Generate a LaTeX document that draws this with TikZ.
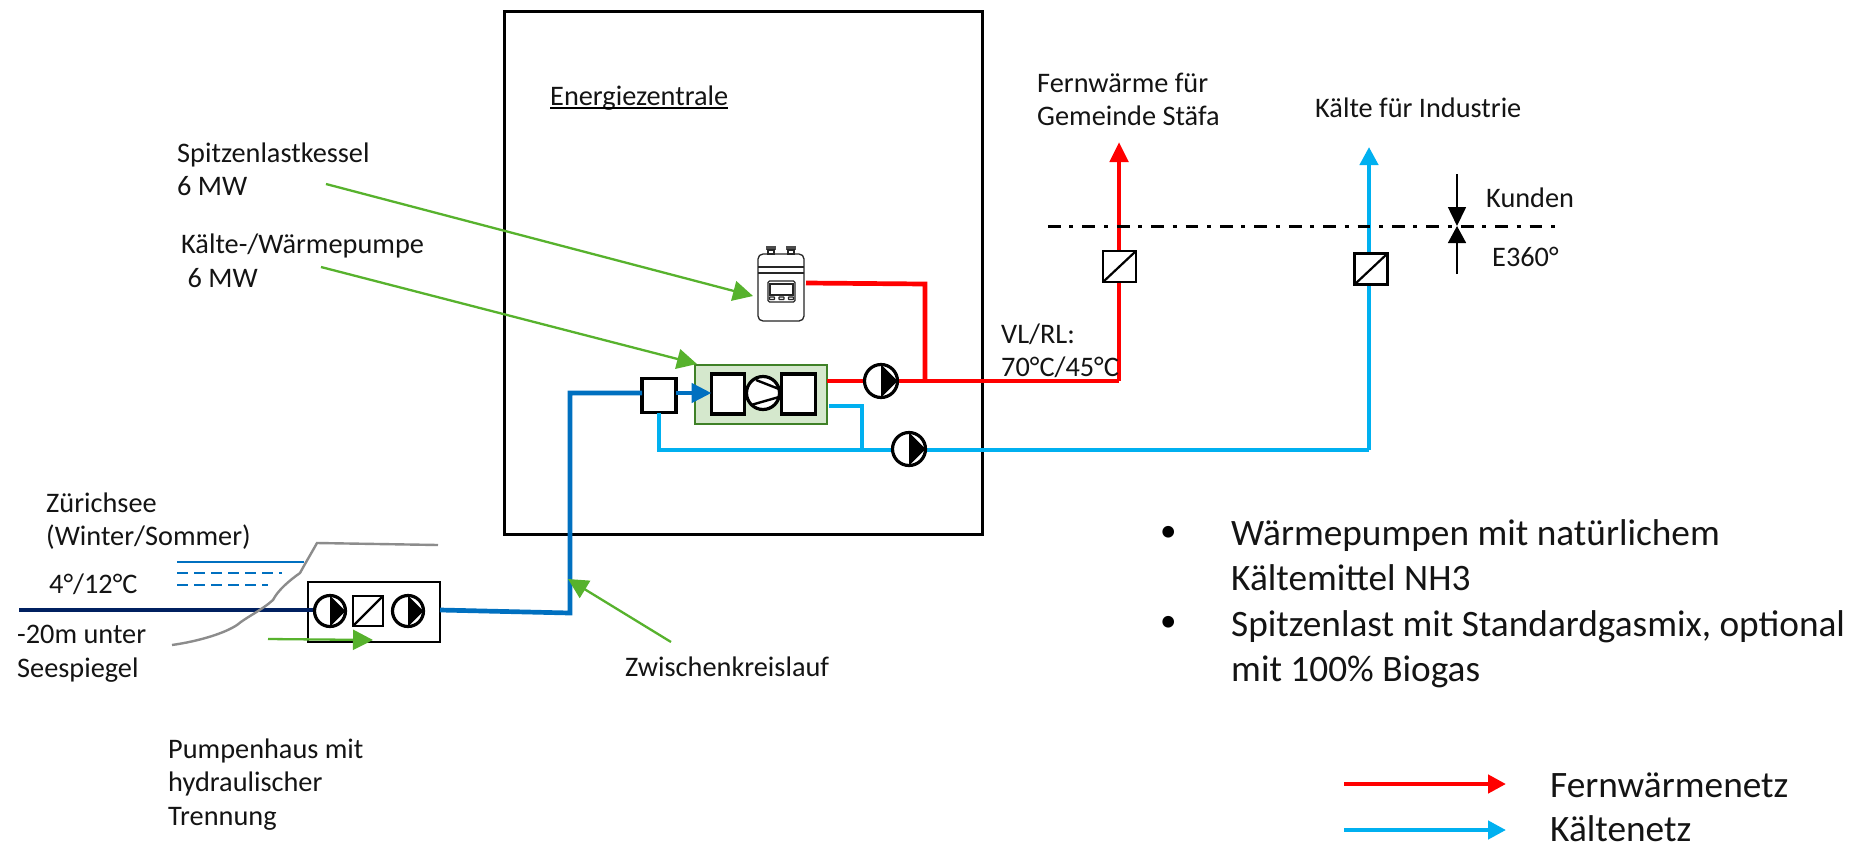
\documentclass[tikz,border=0pt]{standalone}
\usepackage{fontspec}
\setmainfont{Carlito}
\usetikzlibrary{arrows.meta,calc}
\definecolor{redline}{HTML}{FF0000}
\definecolor{cyanline}{HTML}{00B0F0}
\definecolor{blueline}{HTML}{0070C0}
\definecolor{navyline}{HTML}{002060}
\definecolor{greenarr}{HTML}{57B22D}
\definecolor{hpfill}{HTML}{D5E8CD}
\definecolor{hpedge}{HTML}{3F8127}
\definecolor{greyline}{HTML}{8C8C8C}
\tikzset{
  lbl/.style={anchor=base west,inner sep=0pt,align=left,text=black!92,font=\fontsize{28.3}{33.5}\selectfont},
  biglbl/.style={anchor=base west,inner sep=0pt,align=left,text=black!92,font=\fontsize{37.3}{45}\selectfont},
  bulletlbl/.style={anchor=base west,inner sep=0pt,text=black,font=\fontsize{33}{40}\selectfont},
  note/.style={draw=greenarr,line width=2.3pt,-{Triangle[length=20pt,width=20pt]}},
  redpipe/.style={draw=redline,line width=4.7pt},
  cyanpipe/.style={draw=cyanline,line width=4.3pt},
  bluepipe/.style={draw=blueline,line width=4.7pt},
  sym/.style={draw=black,line width=3.2pt,fill=white,inner sep=0pt,outer sep=0pt},
  boxn/.style={sym,rectangle,minimum width=#1,minimum height=#1},
  hx/.style={sym,line width=2.6pt,rectangle,minimum width=33pt,minimum height=31pt,
    path picture={\draw[black,line width=2.2pt] (path picture bounding box.south west) -- (path picture bounding box.north east);}},
  pumpn/.style={sym,circle,minimum size=#1,
    path picture={\fill[black] (path picture bounding box.north) -- (path picture bounding box.east) -- (path picture bounding box.south) -- cycle;}},
}
\begin{document}
\begin{tikzpicture}[x=1pt,y=-1pt]
\useasboundingbox[fill=white] (0,0) rectangle (1867,846);

% building
\node[draw=black,line width=3pt,outer sep=0pt,minimum width=478pt,minimum height=523.5pt,inner sep=0pt,anchor=north west] (zentrale) at (504,11) {};
\node[lbl] (tz) at (550,105) {Energiezentrale};
\draw[black,line width=1.9pt] ($(tz.base west)+(0,3)$) -- ($(tz.base east)+(0,3)$);

% coordinates of bends
\coordinate (rb1) at (806,283);
\coordinate (rb2) at (925,284);
\coordinate (rj) at (925,381);
\coordinate (rc) at (1119,381);
\coordinate (rtop) at (1119,142);
\coordinate (cb1) at (829,406);
\coordinate (cb2) at (862,406);
\coordinate (cj) at (862,450);
\coordinate (cc) at (1369,450);
\coordinate (ctop) at (1369,147);
\coordinate (cs) at (659,450);
\coordinate (bj) at (570,613);
\coordinate (bt) at (570,393);
\coordinate (nav) at (19,610);

% heat pump group
\node[draw=hpedge,fill=hpfill,line width=2.4pt,outer sep=0pt,minimum width=132pt,minimum height=59pt,inner sep=0pt,anchor=north west] (hp) at (695,365) {};
\node[sym,minimum width=33pt,minimum height=40pt] (hpl) at (728,394) {};
\node[sym,minimum width=34pt,minimum height=40pt] (hpr) at (798.5,394) {};
\node[sym,circle,minimum size=33pt] (comp) at (763,393) {};
\draw[black,line width=2.4pt] ($(comp)+(-7,-13)$) -- ($(comp)+(16,-4)$);
\draw[black,line width=2.4pt] ($(comp)+(-12,12)$) -- ($(comp)+(16,4)$);

% pump-house + square before HP
\node[boxn=34pt] (sq) at (659,395.5) {};
\node[draw=black,line width=2.8pt,outer sep=0pt,fill=white,minimum width=132pt,minimum height=60pt,inner sep=0pt,anchor=north west] (ph) at (308,582) {};

% pipes
\draw[redpipe] (rb1) -- (rb2) -- (rj);
\draw[redpipe] (hp.east |- rj) -- (rc);
\draw[redpipe,-{Triangle[length=20pt,width=18pt]}] (rc) -- (rtop);
\draw[cyanpipe] (cb1) -- (cb2) -- (cj);
\draw[cyanpipe] (sq.south) -- (cs) -- (cc);
\draw[cyanpipe,-{Triangle[length=18pt,width=18pt]}] (cc) -- (ctop);
\draw[navyline,line width=4.3pt] (nav) -- (ph.west |- nav) -- ++(12,0);
\draw[bluepipe] (ph.east |- nav) -- (bj) -- (bt) -- (sq.west |- bt);
\draw[bluepipe,-{Triangle[length=20pt,width=19pt]}] (sq.east |- bt) -- (hpl.west |- bt);

% heat exchangers and pumps on the pipes
\node[hx] (hxr) at (1119.5,266.5) {};
\node[hx] (hxc) at (1371,269) {};
\node[pumpn=33pt] (p1) at (881,381) {};
\node[pumpn=33pt] (p2) at (909,449) {};
\node[pumpn=31pt] (p3) at (330,611) {};
\node[hx,minimum width=30pt,minimum height=30pt] (hxp) at (368,611) {};
\node[pumpn=31pt] (p4) at (408,611) {};

% boiler
\node[draw=black!85,line width=1.3pt,fill=white,rounded corners=5pt,outer sep=0pt,minimum width=46pt,minimum height=67pt,inner sep=0pt,anchor=north west] (boiler) at (758,254) {};
\draw[black!85,line width=1.1pt] (boiler.west |- 0,267) -- (boiler.east |- 0,267);
\draw[black!85,line width=1.1pt] (boiler.west |- 0,273) -- (boiler.east |- 0,273);
\draw[black!85,line width=1.3pt,rounded corners=1.5pt] (768,281) rectangle (795,302);
\draw[black!85,line width=1.1pt] (770,284) rectangle (793,295);
\foreach \bx in {772,781.5,791}{\draw[black!85,line width=1.1pt,rounded corners=.5pt] (\bx-2.5,297) rectangle (\bx+2.5,299.5);}
\foreach \cx in {771,791}{
  \fill[black!70] (\cx-5,246) rectangle (\cx+5,250);
  \draw[black!85,line width=1.2pt] (\cx-3,250) rectangle (\cx+3,254);
}

% lake
\draw[greyline,line width=2.4pt] (172,645) .. controls (200,641) and (225,633) .. (237,625)
  .. controls (245,618) and (262,610) .. (273,600)
  .. controls (278,590) and (290,580) .. (300,573)
  .. controls (306,562) and (312,552) .. (317,543) -- (438,545);
\coordinate (w1a) at (177,562); \coordinate (w1b) at (304,562);
\coordinate (w2a) at (177,573); \coordinate (w2b) at (282,573);
\coordinate (w3a) at (177,585); \coordinate (w3b) at (268,585);
\draw[blueline,line width=1.5pt] (w1a) -- (w1b);
\draw[blueline,line width=1.5pt,dash pattern=on 11pt off 6pt] (w2a) -- (w2b);
\draw[blueline,line width=1.5pt,dash pattern=on 11pt off 6pt] (w3a) -- (w3b);

% customer boundary
\coordinate (d1) at (1048,226); \coordinate (d2) at (1555,226);
\coordinate (k1) at (1457,174); \coordinate (k2) at (1457,274); \coordinate (km) at (1457,226);
\draw[black,line width=3pt,dash pattern=on 12.7pt off 8.7pt on 4pt off 9pt] (d1) -- (d2);
\draw[black,line width=1.6pt,-{Triangle[length=19pt,width=18pt]}] (k1) -- (km);
\draw[black,line width=1.6pt,-{Triangle[length=17pt,width=18pt]}] (k2) -- (km);

% green notes
\coordinate (n1a) at (326,184); \coordinate (n1b) at (753,296);
\coordinate (n2a) at (321,267); \coordinate (n2b) at (697,364);
\coordinate (n3a) at (671,642); \coordinate (n3b) at (568,579);
\coordinate (n4a) at (268,639); \coordinate (n4b) at (373,640);
\draw[note] (n1a) -- (n1b);
\draw[note] (n2a) -- (n2b);
\draw[note] (n3a) -- (n3b);
\draw[note] (n4a) -- (n4b);

% labels
\node[lbl] (t1) at (1037,125.5) {Fernwärme für\\Gemeinde Stäfa};
\node[lbl] (t2) at (1315,117) {Kälte für Industrie};
\node[lbl] (t3) at (177,195.5) {Spitzenlastkessel\\6 MW};
\node[lbl] (t4) at (181,287) {Kälte-/Wärmepumpe\\\ 6 MW};
\node[lbl] (t5) at (1001,376.5) {VL/RL:\\70°C/45°C};
\node[lbl] (t6) at (46,545.5) {Zürichsee\\(Winter/Sommer)};
\node[lbl] (t7) at (49,593) {4°/12°C};
\node[lbl] (t8) at (17,677) {-20m unter\\Seespiegel};
\node[lbl] (t9) at (625,676) {Zwischenkreislauf};
\node[lbl] (t10) at (168,825) {Pumpenhaus mit\\hydraulischer\\Trennung};
\node[lbl] (t11) at (1486,207) {Kunden};
\node[lbl] (t12) at (1492,266) {E360°};

\node[bulletlbl] (b1) at (1160,541) {•};
\node[biglbl] (b1t) at (1231,590.5) {Wärmepumpen mit natürlichem\\Kältemittel NH3};
\node[bulletlbl] (b2) at (1160,631) {•};
\node[biglbl] (b2t) at (1231,681.5) {Spitzenlast mit Standardgasmix, optional\\mit 100\% Biogas};

% legend
\coordinate (l1a) at (1344,784); \coordinate (l1b) at (1506,784);
\coordinate (l2a) at (1344,830); \coordinate (l2b) at (1506,830);
\draw[redpipe,-{Triangle[length=18pt,width=18pt]}] (l1a) -- (l1b);
\draw[cyanpipe,-{Triangle[length=18pt,width=18pt]}] (l2a) -- (l2b);
\node[biglbl] (l1) at (1550,797) {Fernwärmenetz};
\node[biglbl] (l2) at (1550,841) {Kältenetz};
\end{tikzpicture}
\end{document}
